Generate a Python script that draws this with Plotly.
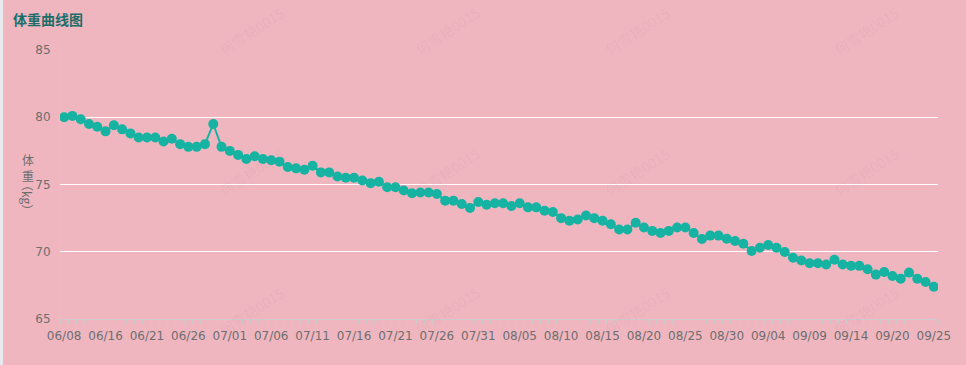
import plotly.graph_objects as go

# ---- data ----
dates = [
    "06/08", "06/09", "06/11", "06/13", "06/15",
    "06/16", "06/17", "06/18", "06/19", "06/20", "06/21", "06/22", "06/23", "06/24", "06/25",
    "06/26", "06/27", "06/28", "06/29", "06/30",
    "07/01", "07/02", "07/03", "07/04", "07/05", "07/06", "07/07", "07/08", "07/09", "07/10",
    "07/11", "07/12", "07/13", "07/14", "07/15", "07/16", "07/17", "07/18", "07/19", "07/20",
    "07/21", "07/22", "07/23", "07/24", "07/25", "07/26", "07/27", "07/28", "07/29", "07/30",
    "07/31", "08/01", "08/02", "08/03", "08/04", "08/05", "08/06", "08/07", "08/08", "08/09",
    "08/10", "08/11", "08/12", "08/13", "08/14", "08/15", "08/16", "08/17", "08/18", "08/19",
    "08/20", "08/21", "08/22", "08/23", "08/24", "08/25", "08/26", "08/27", "08/28", "08/29",
    "08/30", "08/31", "09/01", "09/02", "09/03", "09/04", "09/05", "09/06", "09/07", "09/08",
    "09/09", "09/10", "09/11", "09/12", "09/13", "09/14", "09/15", "09/16", "09/18", "09/19",
    "09/20", "09/21", "09/22", "09/23", "09/24", "09/25",
]
weights = [
    80.0, 80.1, 79.85, 79.5, 79.3, 78.95, 79.4, 79.1, 78.8, 78.5,
    78.5, 78.5, 78.2, 78.4, 78.0, 77.8, 77.8, 78.0, 79.5, 77.8,
    77.5, 77.2, 76.9, 77.1, 76.9, 76.8, 76.7, 76.3, 76.2, 76.1,
    76.4, 75.9, 75.9, 75.6, 75.5, 75.5, 75.3, 75.1, 75.2,
    74.8, 74.8, 74.55, 74.35, 74.4, 74.4, 74.3, 73.8, 73.8, 73.55,
    73.25, 73.7, 73.5, 73.6, 73.6, 73.4, 73.6, 73.3, 73.3,
    73.05, 72.95, 72.5, 72.3, 72.4, 72.7, 72.5, 72.3, 72.05, 71.65,
    71.65, 72.15, 71.8, 71.55, 71.4, 71.55, 71.8, 71.8, 71.4,
    70.95, 71.2, 71.2, 70.97, 70.8, 70.6, 70.05, 70.3, 70.5, 70.3,
    69.98, 69.55, 69.35, 69.15, 69.15, 69.05,
    69.4, 69.05, 68.95, 68.95, 68.7, 68.3, 68.5, 68.2, 68.0, 68.45,
    68.0, 67.75, 67.4,
]
label_step = 5
title_text = "体重曲线图"
y_title_top = "体<br>重"
y_title_unit = "（kg）"
watermark = "何雪艳0015"

# ---- figure ----
idx = list(range(len(dates)))
tick_idx = idx[::label_step]
tick_txt = [dates[i] for i in tick_idx]

BG = "#efb6c0"
TEAL = "#16b3a3"
GREY = "#6e6e6e"

fig = go.Figure()
fig.add_trace(go.Scatter(
    x=idx, y=weights, customdata=dates, mode="lines+markers",
    line=dict(color=TEAL, width=2),
    marker=dict(color=TEAL, size=10),
    hovertemplate="%{customdata}: %{y}<extra></extra>",
))

L, R, T, B = 60, 28, 50, 46
W, H = 966, 365
pw, ph = W - L - R, H - T - B

def px(x):
    return (x - L) / pw

def py(y):
    return (H - B - y) / ph

annotations = []
for cy in (0, 172, 342):
    for cx in (213, 447, 676, 905):
        annotations.append(dict(
            text=watermark, x=px(cx), y=py(cy), xref="paper", yref="paper",
            showarrow=False, textangle=-33,
            font=dict(size=14, color="rgba(150,100,115,0.08)", family="Noto Sans CJK SC"),
        ))
annotations.append(dict(
    text=y_title_top, x=px(28), y=py(167), xref="paper", yref="paper",
    showarrow=False, font=dict(size=12, color=GREY, family="Noto Sans CJK SC"),
    xanchor="center", yanchor="middle",
))
annotations.append(dict(
    text=y_title_unit, x=px(28), y=py(197), xref="paper", yref="paper",
    showarrow=False, textangle=90, font=dict(size=12, color=GREY, family="Noto Sans CJK SC"),
    xanchor="center", yanchor="middle",
))

fig.update_layout(
    width=W, height=H,
    margin=dict(l=L, r=R, t=T, b=B, pad=0),
    paper_bgcolor=BG, plot_bgcolor=BG,
    showlegend=False,
    title=dict(text="<b>" + title_text + "</b>", x=13 / W, xanchor="left",
               y=1 - 20 / H, yanchor="middle",
               font=dict(size=14, color="#1b6e68", family="Noto Sans CJK SC")),
    annotations=annotations,
    shapes=[dict(type="rect", xref="paper", yref="paper",
                 x0=px(0), x1=px(3), y0=py(H), y1=py(0),
                 fillcolor="#e8e9ef", line=dict(width=0), layer="above")],
    xaxis=dict(
        range=[-0.5, len(dates) - 0.5],
        tickmode="array", tickvals=tick_idx, ticktext=tick_txt,
        ticks="", showgrid=False, zeroline=False,
        showline=True, linecolor="#cfc8cc", linewidth=1,
        tickfont=dict(size=12, color=GREY, family="DejaVu Sans"),
        ticklabelstandoff=6,
        minor=dict(tickmode="linear", tick0=-0.5, dtick=1, ticks="outside",
                   ticklen=4, tickcolor="#cfc8cc", showgrid=False),
    ),
    yaxis=dict(
        range=[65, 85], tickmode="linear", tick0=65, dtick=5,
        showgrid=True, gridcolor="#ffffff", gridwidth=1,
        zeroline=False, showline=True, linecolor="#cfc8cc", linewidth=1,
        ticks="", ticklabelstandoff=6,
        tickfont=dict(size=12, color=GREY, family="DejaVu Sans"),
    ),
)

fig.write_html("out.html")
